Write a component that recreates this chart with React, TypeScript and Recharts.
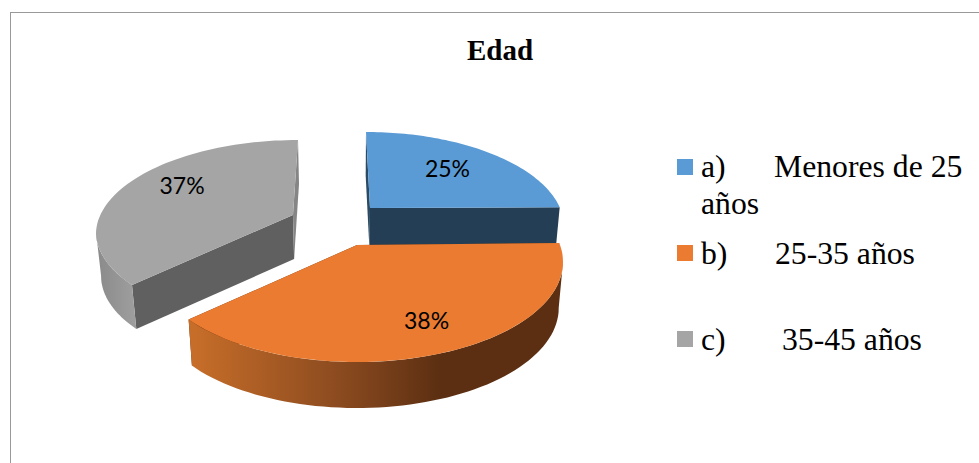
import React from 'react'
import { PieChart, Pie, Legend } from 'recharts'

const categories = ['Menores de 25 años', '25-35 años', '35-45 años']
const letters = ['a)', 'b)', 'c)']
const shares = [25, 38, 37]
const colors = ['#5b9bd5', '#ea7b30', '#a5a5a5']

const data = categories.map((name, i) => ({ name, value: shares[i], fill: colors[i] }))

// look of each exploded slice: offset from the pie centre, radii scale, extrusion
const CX = 330
const CY = 245
const RADIUS = 200
const offsets = [[40, -37], [27, 0], [-37, -30]]
const rxScale = [0.97, 1.03, 0.985]
const ryScale = [0.465, 0.5, 0.46]
const depths = [44, 46, 44]
const lean = [-4, 0, 5]
const faceFills = [['#2b4a63', '#243f55'], ['#5f3013', '#5f3013'], ['#606060', '#858585']]
const labelFrac = [[0.66, 0.77], [0.78, 0.64], [0.675, 0.92]]
const RIM_DROP = 17
const VANISH_X = 350

const rad = (d: number) => (d * Math.PI) / 180
// screen angle on the ellipse for a true angle (clockwise from 3 o'clock)
const tilt = (theta: number) => theta - 11 * Math.cos(rad(theta))

function rimPoint(cx: number, cy: number, i: number, t: number) {
  const rx = RADIUS * rxScale[i]
  const ry = RADIUS * ryScale[i]
  const s = Math.sin(rad(t))
  return [cx + offsets[i][0] + rx * Math.cos(rad(t)) + lean[i] * Math.max(0, -s), cy + offsets[i][1] + RIM_DROP + ry * s]
}

const drop = (p: number[], depth: number) => [VANISH_X + (p[0] - VANISH_X) * 0.98, p[1] + depth]
const toPath = (pts: number[][]) => 'M' + pts.map(p => p[0].toFixed(1) + ',' + p[1].toFixed(1)).join('L') + 'Z'

function SliceShape(props: any) {
  const { cx, cy, startAngle, endAngle, fill, index } = props
  const i = index as number
  const a = -startAngle
  const b = -endAngle
  const depth = depths[i]
  const apex = [cx + offsets[i][0], cy + offsets[i][1]]

  const steps = 64
  const rim: number[][] = []
  for (let k = 0; k <= steps; k++) {
    rim.push(rimPoint(cx, cy, i, tilt(a + ((b - a) * k) / steps)))
  }
  const first = rim[0]
  const last = rim[rim.length - 1]

  // only the part of the outer wall that faces the viewer
  const ta = Math.max(tilt(a), 0)
  const tb = Math.min(tilt(b), 180)
  const wall: number[][] = []
  if (tb > ta) {
    for (let k = 0; k <= steps; k++) wall.push(rimPoint(cx, cy, i, ta + ((tb - ta) * k) / steps))
  }
  const wallFill = i === 1 ? 'url(#wallOrange)' : i === 2 ? 'url(#wallGrey)' : faceFills[i][1]

  return (
    <g>
      <defs>
        <linearGradient id="wallOrange" gradientUnits="userSpaceOnUse" x1="195" y1="0" x2="440" y2="0">
          <stop offset="0" stopColor="#c66d29" />
          <stop offset="0.6" stopColor="#8a4a1f" />
          <stop offset="1" stopColor="#5c2f12" />
        </linearGradient>
        <linearGradient id="wallGrey" gradientUnits="userSpaceOnUse" x1="96" y1="0" x2="133" y2="0">
          <stop offset="0" stopColor="#8a8a8a" />
          <stop offset="1" stopColor="#9d9d9d" />
        </linearGradient>
      </defs>
      <path d={toPath([first, apex, drop(apex, depth), drop(first, depth)])} fill={faceFills[i][0]} />
      <path d={toPath([last, apex, drop(apex, depth), drop(last, depth)])} fill={faceFills[i][1]} />
      {wall.length > 0 && (
        <path d={toPath([...wall, ...wall.slice().reverse().map(p => drop(p, depth))])} fill={wallFill} />
      )}
      <path d={toPath([apex, ...rim])} fill={fill} />
    </g>
  )
}

function renderLabel(props: any) {
  const { cx, cy, midAngle, index, value } = props
  const i = index as number
  const t = tilt(-midAngle)
  const x = cx + offsets[i][0] + RADIUS * rxScale[i] * labelFrac[i][0] * Math.cos(rad(t))
  const y = cy + offsets[i][1] + RIM_DROP + RADIUS * ryScale[i] * labelFrac[i][1] * Math.sin(rad(t))
  return (
    <text x={x} y={y} textAnchor="middle" dominantBaseline="central" fontFamily="Lato" fontSize={23} fill="#000">
      {value}%
    </text>
  )
}

const legendBaselines = [176, 263, 349]
const legendSwatchTop = [159, 245, 331]
const legendNameX = [774, 775, 782]

function LegendBox() {
  const serif = { position: 'absolute', fontFamily: '"Liberation Serif"', fontSize: 31.7, lineHeight: '30px', color: '#000', whiteSpace: 'pre' } as React.CSSProperties
  return (
    <div style={{ position: 'relative', width: 979, height: 463 }}>
      {categories.map((name, i) => {
        const wrap = name === 'Menores de 25 años'
        const top = legendBaselines[i] - 24
        return (
          <React.Fragment key={name}>
            <div style={{ position: 'absolute', left: 677, top: legendSwatchTop[i], width: 16, height: 16, background: colors[i] }} />
            <span style={{ ...serif, left: 701, top }}>{letters[i]}</span>
            <span style={{ ...serif, left: legendNameX[i], top }}>{wrap ? 'Menores de 25' : name}</span>
            {wrap && <span style={{ ...serif, left: 701, top: top + 37 }}>años</span>}
          </React.Fragment>
        )
      })}
    </div>
  )
}

export default function App() {
  return (
    <div style={{ position: 'absolute', left: 0, top: 0, width: 979, height: 463, background: '#fff', overflow: 'hidden' }}>
      <div style={{ position: 'absolute', left: 10, top: 12, width: 969, height: 451, borderLeft: '1.5px solid #999', borderTop: '1.5px solid #999', boxSizing: 'border-box' }} />
      <div style={{ position: 'absolute', left: 400, width: 200, top: 34, textAlign: 'center', fontFamily: '"Liberation Serif"', fontWeight: 'bold', fontSize: 29, color: '#000' }}>Edad</div>
      <PieChart width={979} height={463} margin={{ top: 0, right: 0, bottom: 0, left: 0 }} style={{ position: 'absolute', left: 0, top: 0 }}>
        <Pie
          data={data}
          dataKey="value"
          nameKey="name"
          cx={CX}
          cy={CY}
          outerRadius={RADIUS}
          startAngle={90}
          endAngle={-270}
          paddingAngle={0}
          stroke="none"
          shape={SliceShape}
          label={renderLabel}
          labelLine={false}
          isAnimationActive={false}
        />
        <Legend content={<LegendBox />} wrapperStyle={{ left: 0, top: 0, width: 979, height: 463, pointerEvents: 'none' }} />
      </PieChart>
    </div>
  )
}
